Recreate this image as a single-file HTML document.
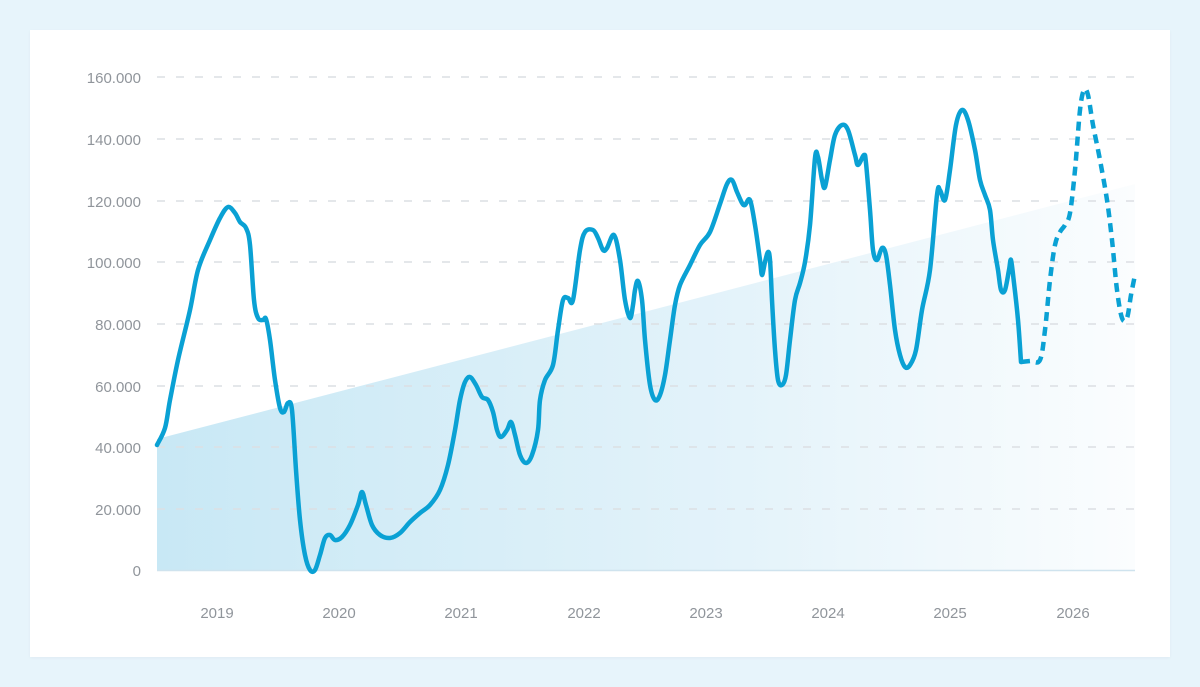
<!DOCTYPE html>
<html><head><meta charset="utf-8"><style>
html,body{margin:0;padding:0;background:#e7f4fb;}
body{width:1200px;height:687px;position:relative;overflow:hidden;font-family:"Liberation Sans",sans-serif;}
.card{position:absolute;left:30px;top:30px;width:1140px;height:627px;background:#fff;box-shadow:0 1px 3px rgba(0,0,0,0.04);}
svg{position:absolute;left:0;top:0;}
text{font-family:"Liberation Sans",sans-serif;font-size:15px;fill:#90959b;}
</style></head><body>
<div class="card"></div>
<svg width="1200" height="687" viewBox="0 0 1200 687">
<defs>
<linearGradient id="g" x1="0" y1="0" x2="1" y2="0">
<stop offset="0" stop-color="#c8e8f5"/>
<stop offset="0.6" stop-color="#e4f3fa"/>
<stop offset="1" stop-color="#fbfdfe"/>
</linearGradient>
</defs>
<polygon points="157,439 1135,184 1135,570 157,570" fill="url(#g)"/>
<g stroke="#dcdfe3" stroke-width="1.5" stroke-dasharray="8 11">
<line x1="157" y1="77" x2="1135" y2="77"/>
<line x1="157" y1="139" x2="1135" y2="139"/>
<line x1="157" y1="201" x2="1135" y2="201"/>
<line x1="157" y1="262" x2="1135" y2="262"/>
<line x1="157" y1="324" x2="1135" y2="324"/>
<line x1="157" y1="386" x2="1135" y2="386"/>
<line x1="157" y1="447" x2="1135" y2="447"/>
<line x1="157" y1="509" x2="1135" y2="509"/>
</g>
<line x1="157" y1="570.5" x2="1135" y2="570.5" stroke="#cfe3ee" stroke-width="1.5"/>
<g text-anchor="end">
<text x="141" y="83">160.000</text>
<text x="141" y="145">140.000</text>
<text x="141" y="207">120.000</text>
<text x="141" y="268">100.000</text>
<text x="141" y="330">80.000</text>
<text x="141" y="392">60.000</text>
<text x="141" y="453">40.000</text>
<text x="141" y="515">20.000</text>
<text x="141" y="576">0</text>
</g>
<g text-anchor="middle">
<text x="217" y="618">2019</text>
<text x="339" y="618">2020</text>
<text x="461" y="618">2021</text>
<text x="584" y="618">2022</text>
<text x="706" y="618">2023</text>
<text x="828" y="618">2024</text>
<text x="950" y="618">2025</text>
<text x="1073" y="618">2026</text>
</g>
<path id="solid" fill="none" stroke="#0aa1d4" stroke-width="4.5" stroke-linejoin="round" stroke-linecap="round" data-p="157,445 165,428 170,400 178,360 190,310 198,270 210,240 220,218 228,207 235,213 240,222 246,228 250,245 254,300 258,318 263,320 266,319 270,340 275,380 280,408 284,412 288,403 292,410 296,470 300,520 305,555 310,570 315,570 320,555 325,538 330,535 335,540 342,537 350,525 358,505 362,492 366,505 372,525 380,535 390,538 400,533 410,522 420,513 430,505 440,490 448,465 455,430 460,400 465,382 470,377 476,385 482,397 488,400 493,412 497,430 501,437 507,430 511,422 515,435 520,455 526,463 532,455 538,430 540,400 545,380 553,365 558,330 563,300 568,298 573,300 580,250 585,232 593,230 598,238 603,250 607,248 614,235 620,260 625,300 630,318 633,305 635,290 638,281 642,300 645,340 650,385 655,400 660,395 665,375 670,340 675,305 680,285 690,265 700,245 710,232 720,204 727,184 732,180 737,192 742,203 745,205 750,200 755,225 760,260 762,275 765,262 768,252 770,260 772,300 775,350 778,380 782,385 786,375 790,340 795,300 800,283 805,262 810,225 815,158 818,157 822,180 825,187 830,160 835,135 842,125 848,130 855,155 858,165 864,155 866,163 870,210 873,250 877,260 882,248 886,255 890,285 895,330 900,355 905,367 910,365 916,350 922,310 930,270 937,195 940,190 945,200 950,170 956,125 962,110 968,120 975,150 980,180 985,195 990,210 993,240 998,270 1001,290 1005,290 1009,270 1011,260 1014,283 1018,320 1021,362"/>
<path id="dash" fill="none" stroke="#0aa1d4" stroke-width="4.5" stroke-dasharray="9 6" stroke-linejoin="round" data-p="1021,362 1030,361 1040,360 1045,330 1050,280 1055,245 1060,232 1065,225 1070,213 1075,170 1080,110 1084,90 1088,95 1093,125 1100,160 1107,200 1112,240 1117,290 1122,318 1127,318 1131,295 1135,275"/>
</svg>
<script>
function smooth(el){
  var p=el.getAttribute('data-p').trim().split(/\s+/).map(function(s){return s.split(',').map(Number);});
  var d='M'+p[0][0]+','+p[0][1];
  for(var i=0;i<p.length-1;i++){
    var p0=p[i-1]||p[i],p1=p[i],p2=p[i+1],p3=p[i+2]||p2,t=0.5/3*2;
    var c1x=p1[0]+(p2[0]-p0[0])/6,c1y=p1[1]+(p2[1]-p0[1])/6;
    var c2x=p2[0]-(p3[0]-p1[0])/6,c2y=p2[1]-(p3[1]-p1[1])/6;
    d+=' C'+c1x.toFixed(1)+','+c1y.toFixed(1)+' '+c2x.toFixed(1)+','+c2y.toFixed(1)+' '+p2[0]+','+p2[1];
  }
  el.setAttribute('d',d);
}
smooth(document.getElementById('solid'));
smooth(document.getElementById('dash'));
</script>
</body></html>
